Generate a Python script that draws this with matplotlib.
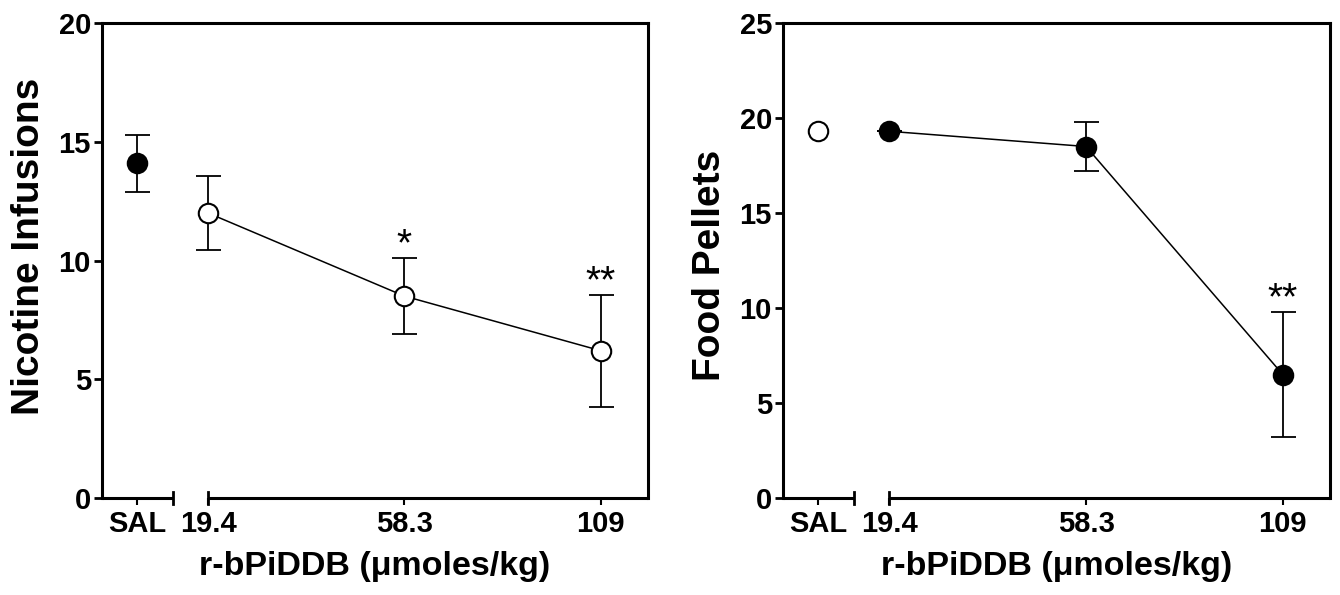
import numpy as np
import matplotlib
matplotlib.use("Agg")
import matplotlib.pyplot as plt
from matplotlib.transforms import blended_transform_factory

plt.rcParams['font.family'] = ['Liberation Sans', 'DejaVu Sans']

# --- data ---
doses = ["19.4", "58.3", "109"]
sal_label = "SAL"

nic_sal_mean = 14.1
nic_sal_err = 1.2
nic_mean = [12.0, 8.5, 6.2]
nic_err = [1.55, 1.6, 2.35]
nic_sig = ["", "*", "**"]

food_sal_mean = 19.3
food_sal_err = 0.0
food_mean = [19.3, 18.5, 6.5]
food_err = [0.0, 1.3, 3.3]
food_sig = ["", "", "**"]

# x layout: doses equally spaced, SAL on its own short segment
x_dose = np.arange(len(doses))
x_sal = -0.36
seg_end = -0.18
xlim = (-0.54, 2.24)


def panel(ax, sal_m, sal_e, sal_filled, m, e, filled, sig, ymax, ylabel, ylab_y):
    ms = 14
    if sal_e > 0:
        ax.errorbar([x_sal], [sal_m], yerr=[sal_e], fmt='none', ecolor='black',
                    elinewidth=1.3, capsize=9, capthick=1.3)
    ax.plot([x_sal], [sal_m], 'o', ms=ms, mec='black', mew=1.5,
            mfc='black' if sal_filled else 'white', zorder=4)
    ax.errorbar(x_dose, m, yerr=e, fmt='none', ecolor='black',
                elinewidth=1.3, capsize=9, capthick=1.3)
    ax.plot(x_dose, m, '-', color='black', lw=1.1, zorder=3)
    ax.plot(x_dose, m, 'o', ms=ms, mec='black', mew=1.5, ls='none',
            mfc='black' if filled else 'white', zorder=4)
    for xi, yi, ei, s in zip(x_dose, m, e, sig):
        if s:
            ax.annotate(s, (xi, yi + ei), xytext=(0, -4), textcoords='offset points',
                        ha='center', va='bottom', fontsize=28)

    ax.set_xlim(*xlim)
    ax.set_ylim(0, ymax)
    ax.set_yticks(np.arange(0, ymax + 1, 5))
    for side in ['left', 'top', 'right']:
        ax.spines[side].set_linewidth(2.2)
    ax.spines['bottom'].set_visible(False)
    ax.tick_params(axis='y', direction='out', length=6, width=2, labelsize=21, pad=2)
    ax.set_yticklabels([str(v) for v in ax.get_yticks().astype(int)], fontweight='bold')

    # broken x axis drawn by hand
    tr = blended_transform_factory(ax.transData, ax.transAxes)
    ax.plot([xlim[0], seg_end], [0, 0], color='black', lw=2.2, transform=tr,
            clip_on=False, solid_capstyle='butt')
    ax.plot([x_dose[0], xlim[1]], [0, 0], color='black', lw=2.2, transform=tr,
            clip_on=False, solid_capstyle='butt')
    for xc in [seg_end, x_dose[0]]:
        ax.plot([xc, xc], [-0.012, 0.012], color='black', lw=2, transform=tr, clip_on=False)
    ax.set_xticks([x_sal] + list(x_dose))
    ax.set_xticklabels([sal_label] + doses, fontweight='bold')
    ax.tick_params(axis='x', direction='out', length=5, width=1.5, labelsize=21, pad=4)

    ax.set_xlabel("r-bPiDDB (μmoles/kg)", fontsize=24.5, fontweight='bold', labelpad=9)
    ax.set_ylabel(ylabel, fontsize=28, fontweight='bold')
    ax.yaxis.set_label_coords(-0.1, ylab_y)


fig = plt.figure(figsize=(13.4, 5.95), dpi=100)
W, H = 1340, 595
ax1 = fig.add_axes([102 / W, (H - 498) / H, (648 - 102) / W, (498 - 23) / H])
ax2 = fig.add_axes([783 / W, (H - 498) / H, (1330 - 783) / W, (498 - 23) / H])

panel(ax1, nic_sal_mean, nic_sal_err, True, nic_mean, nic_err, False, nic_sig, 20,
      "Nicotine Infusions", 0.53)
panel(ax2, food_sal_mean, food_sal_err, False, food_mean, food_err, True, food_sig, 25,
      "Food Pellets", 0.49)

fig.savefig("out.png", dpi=100)
